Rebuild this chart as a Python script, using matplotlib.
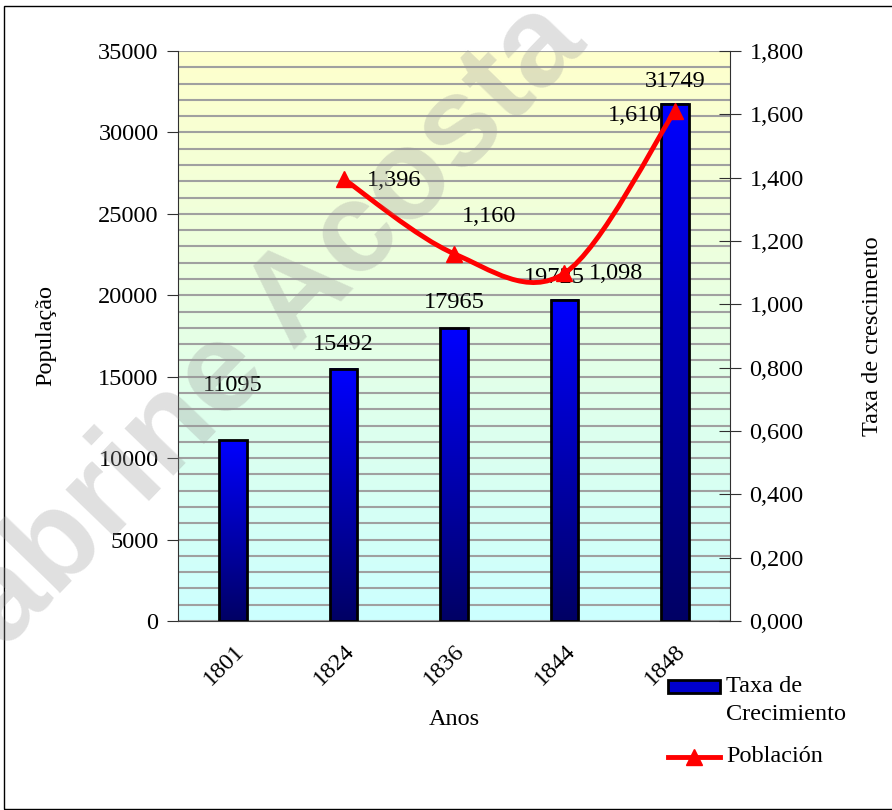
import matplotlib.pyplot as plt
import numpy as np
from matplotlib.patches import Rectangle, PathPatch
from matplotlib.path import Path
from matplotlib.lines import Line2D

# Data
anos = ['1801', '1824', '1836', '1844', '1848']
populacao = [11095, 15492, 17965, 19725, 31749]
taxa_x = [1, 2, 3, 4]
taxa = [1.396, 1.160, 1.098, 1.610]
taxa_labels = ['1,396', '1,160', '1,098', '1,610']

# label offsets in pixels (hand placed like the original)
bar_off = [(0, 55), (0, 24), (0, 26), (-10, 22), (0, 22)]
taxa_off = [(51, -2), (35, 37), (52, 0), (-40, -4)]

plt.rcParams['font.family'] = 'Liberation Serif'
plt.rcParams['font.size'] = 17.5

fig = plt.figure(figsize=(8.92, 8.10), dpi=100)
ax = fig.add_axes([178/892, 189/810, 552/892, 570/810])
x = np.arange(len(anos))

# background gradient yellow -> cyan
grad = np.linspace(0, 1, 256).reshape(-1, 1)
top = np.array([255, 255, 204]) / 255
bot = np.array([204, 255, 255]) / 255
bg = (top * (1 - grad) + bot * grad)[:, None, :].repeat(2, axis=1)
ax.imshow(bg, extent=[0, 1, 0, 1], transform=ax.transAxes, aspect='auto', zorder=0)

ax.set_xlim(-0.5, 4.5)
ax.set_ylim(0, 35000)
ax.set_yticks(np.arange(0, 35001, 5000))
ax.set_yticks(np.arange(0, 35001, 1000), minor=True)
ax.grid(True, which='both', axis='y', color='#a0a0a0', lw=1.5, zorder=1)
ax.set_axisbelow(True)

# bars with a vertical gradient each
w = 0.25
ax.bar(x, populacao, width=w, facecolor='none', edgecolor='black', lw=2, zorder=4)
bgrad = np.linspace(0, 1, 256).reshape(-1, 1)
btop = np.array([0, 0, 255]) / 255
bbot = np.array([0, 0, 100]) / 255
bimg = (btop * (1 - bgrad) + bbot * bgrad)[:, None, :].repeat(2, axis=1)
for xi, h in zip(x, populacao):
    ax.imshow(bimg, extent=[xi - w/2, xi + w/2, 0, h], aspect='auto', zorder=3)
ax.set_aspect('auto')
ax.set_xlim(-0.5, 4.5)
ax.set_ylim(0, 35000)

for xi, h, (dx, dy) in zip(x, populacao, bar_off):
    ax.annotate(str(h), (xi, h), xytext=(dx, dy), textcoords='offset pixels',
                ha='center', va='center', zorder=6)

ax.set_xticks(x)
ax.set_xticklabels(anos, rotation=45, ha='right', rotation_mode='anchor')
ax.tick_params(axis='x', length=0, pad=14)
ax.tick_params(axis='y', which='major', direction='out', length=8, color='#303030', pad=6)
ax.tick_params(axis='y', which='minor', length=0)
ax.spines['top'].set_visible(False)
ax.spines['right'].set_visible(False)
ax.spines['left'].set_color('#303030')
ax.spines['bottom'].set_color('#404040')
ax.set_ylabel('População', labelpad=30)
ax.set_xlabel('Anos', labelpad=14)

# right axis with smoothed line
ax2 = ax.twinx()
ax2.set_ylim(0, 1.8)
ax2.set_yticks(np.arange(0, 1.81, 0.2))
ax2.set_yticklabels([f'{v:.3f}'.replace('.', ',') for v in np.arange(0, 1.81, 0.2)])
ax2.tick_params(axis='y', direction='inout', length=16, color='#303030', pad=6)
for s in ['top', 'left', 'bottom']:
    ax2.spines[s].set_visible(False)
ax2.spines['right'].set_color('#303030')
ax2.set_ylabel('Taxa de crescimento', labelpad=42)

pts = np.column_stack([taxa_x, taxa])
ext = np.vstack([pts[0], pts, pts[-1]])
verts = [pts[0]]
codes = [Path.MOVETO]
for i in range(len(pts) - 1):
    p0, p1, p2, p3 = ext[i], ext[i + 1], ext[i + 2], ext[i + 3]
    verts += [p1 + (p2 - p0) / 6, p2 - (p3 - p1) / 6, p2]
    codes += [Path.CURVE4] * 3
ax2.add_patch(PathPatch(Path(verts, codes), facecolor='none', edgecolor='red', lw=3.5, zorder=5))
ax2.plot(taxa_x, taxa, ls='none', marker='^', ms=11, color='red', zorder=6)
for xi, v, t, (dx, dy) in zip(taxa_x, taxa, taxa_labels, taxa_off):
    ax2.annotate(t, (xi, v), xytext=(dx, dy), textcoords='offset pixels',
                 ha='center', va='center', zorder=7)

# legend, drawn by hand in figure pixels
fx = lambda px: px / 892
fy = lambda py: 1 - py / 810
fig.patches.append(Rectangle((fx(668), fy(693)), fx(52), 13/810, transform=fig.transFigure,
                             facecolor='#0000cc', edgecolor='black', lw=2))
fig.text(fx(726), fy(686), 'Taxa de', va='center', ha='left')
fig.text(fx(726), fy(715), 'Crecimiento', va='center', ha='left')
fig.lines.append(Line2D([fx(668), fx(720)], [fy(757), fy(757)], transform=fig.transFigure,
                        color='red', lw=3.5))
fig.lines.append(Line2D([fx(694)], [fy(757)], transform=fig.transFigure, color='red',
                        marker='^', ms=11, ls='none'))
fig.text(fx(726), fy(757), 'Población', va='center', ha='left')

# watermark
fig.text(fx(244), fy(356), 'Sabrine Acosta', fontsize=92, fontweight='bold',
         family='Liberation Sans', color='#999999', alpha=0.3, rotation=46,
         ha='center', va='center', zorder=10)

# outer frame
fig.patches.append(Rectangle((4/892, 1/810), 900/892, 803/810, transform=fig.transFigure,
                             fill=False, edgecolor='black', lw=1))

plt.savefig('out.png', dpi=100)
